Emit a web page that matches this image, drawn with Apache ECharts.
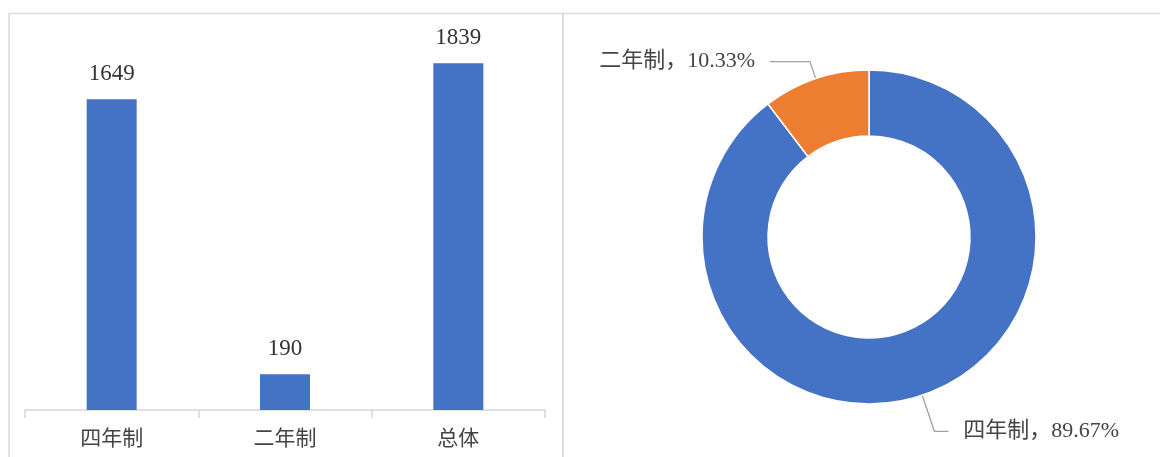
<!DOCTYPE html>
<html>
<head>
<meta charset="utf-8">
<script src="https://cdn.jsdelivr.net/npm/echarts@6/dist/echarts.min.js"></script>
<style>
html,body{margin:0;padding:0;background:#fff;}
#main{width:1160px;height:457px;}
</style>
</head>
<body>
<div id="main"></div>
<script>
const categories = ['四年制', '二年制', '总体'];
const barValues = [1649, 190, 1839];
const pieNames = ['四年制', '二年制'];
const pieShares = [89.67, 10.33];

const FONT = '"Liberation Serif", "Noto Sans CJK SC", serif';
const chart = echarts.init(document.getElementById('main'));
chart.setOption({
  animation: false,
  graphic: [
    { type: 'rect', shape: { x: 9, y: 13.5, width: 554, height: 470 }, style: { fill: 'none', stroke: '#dcdcdc', lineWidth: 1.5 }, z: -1 },
    { type: 'rect', shape: { x: 563, y: 13.5, width: 620, height: 470 }, style: { fill: 'none', stroke: '#dcdcdc', lineWidth: 1.5 }, z: -1 }
  ],
  grid: { left: 25, width: 520, top: 33, bottom: 47 },
  xAxis: {
    type: 'category',
    data: categories,
    axisLine: { lineStyle: { color: '#d6d6d6', width: 1.5 } },
    axisTick: { show: true, length: 8, lineStyle: { color: '#d6d6d6', width: 1.5 } },
    axisLabel: { fontFamily: FONT, fontSize: 21, color: '#444', margin: 19 }
  },
  yAxis: { type: 'value', min: 0, max: 2000, show: false, splitLine: { show: false } },
  series: [
    {
      type: 'bar',
      data: barValues,
      barWidth: 50,
      itemStyle: { color: '#4472C4' },
      label: { show: true, position: 'top', distance: 14, fontFamily: FONT, fontSize: 23, color: '#333' }
    },
    {
      type: 'pie',
      center: [869, 237],
      radius: [101, 167],
      startAngle: 90,
      clockwise: true,
      avoidLabelOverlap: false,
      data: pieNames.map((n, i) => ({
        name: n, value: pieShares[i],
        labelLine: i === 0 ? { length: 38, length2: 14 } : { length: 18, length2: 40 }
      })),
      itemStyle: { borderColor: '#fff', borderWidth: 1.5 },
      color: ['#4472C4', '#ED7D31'],
      label: {
        show: true,
        position: 'outside',
        formatter: p => p.name + '，' + p.value.toFixed(2) + '%',
        fontFamily: FONT,
        fontSize: 22,
        color: '#444',
        distanceToLabelLine: 15
      },
      labelLine: { show: true, lineStyle: { color: '#a0a0a0', width: 1.3 } },
      emphasis: { disabled: true }
    }
  ]
});
</script>
</body>
</html>
